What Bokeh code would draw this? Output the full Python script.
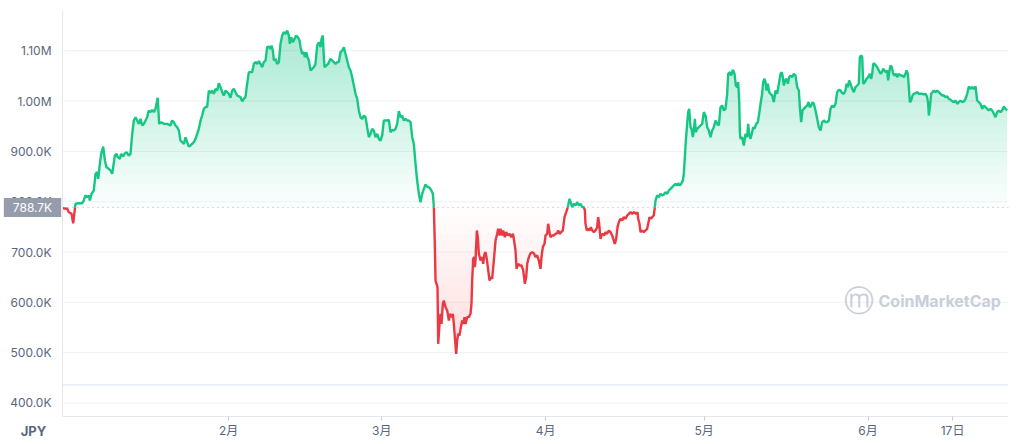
import numpy as np
from bokeh.plotting import figure
from bokeh.models import Range1d, FixedTicker, Label, Span, LinearAxis
from bokeh.embed import file_html
from bokeh.resources import INLINE

# ---- data (days since 2020-01-01, price in thousands of JPY) ----
days = [
    -0.42, 0.47, 0.78, 1.29, 1.6, 1.85, 2.04, 2.67, 3.3, 3.6,
    3.9, 4.25, 4.57, 4.75, 5.07, 5.5, 5.83, 6.14, 6.33, 6.65,
    6.9, 7.28, 7.6, 7.9, 8.35, 8.67, 8.98, 9.17, 9.49, 9.8,
    10.05, 10.43, 10.68, 11.06, 11.3, 11.7, 12.1, 12.45, 12.77, 13.08,
    13.4, 13.7, 14.03, 14.34, 14.66, 14.97, 15.29, 15.6, 15.9, 16.23,
    16.55, 16.86, 17.18, 17.6, 17.87, 18.25, 18.76, 19.4, 20.0, 20.33,
    20.65, 20.96, 21.28, 21.6, 21.9, 22.23, 22.55, 22.86, 23.17, 23.49,
    23.8, 24.1, 24.43, 24.75, 25.06, 25.38, 25.7, 26.0, 26.33, 26.64,
    26.96, 27.27, 27.59, 27.9, 28.22, 28.53, 28.85, 29.16, 29.48, 29.8,
    30.1, 30.43, 30.74, 31.06, 31.37, 31.69, 32.0, 32.32, 32.63, 33.26,
    33.58, 33.9, 34.2, 34.52, 34.84, 35.16, 35.47, 35.79, 36.1, 36.42,
    36.73, 37.05, 37.36, 37.68, 38.0, 38.31, 38.63, 38.94, 39.13, 39.38,
    39.57, 39.89, 40.2, 40.52, 40.83, 41.15, 41.46, 41.78, 42.1, 42.41,
    42.6, 42.85, 43.17, 43.48, 43.8, 44.11, 44.43, 44.62, 44.93, 45.25,
    45.44, 45.69, 45.94, 46.19, 46.51, 46.82, 47.14, 47.45, 47.77, 48.09,
    48.4, 48.59, 48.84, 49.03, 49.16, 49.47, 49.85, 50.3, 50.61, 50.92,
    51.24, 51.55, 51.87, 52.18, 52.5, 52.82, 53.13, 53.45, 53.76, 54.08,
    54.39, 54.71, 55.02, 55.34, 55.65, 55.97, 56.29, 56.6, 56.92, 57.23,
    57.55, 57.86, 58.18, 58.49, 58.81, 59.12, 59.44, 59.75, 60.07, 60.38,
    60.7, 61.02, 61.33, 61.65, 61.96, 62.28, 62.59, 62.91, 63.22, 63.54,
    63.85, 64.17, 64.48, 64.8, 65.11, 65.43, 65.75, 66.06, 66.38, 66.69,
    67.01, 67.32, 67.64, 67.95, 68.27, 68.58, 69.03, 69.4, 69.66, 69.85,
    70.04, 70.16, 70.35, 70.54, 70.67, 70.92, 71.11, 71.3, 71.55, 71.74,
    72.05, 72.37, 72.69, 72.87, 73.19, 73.44, 73.63, 73.82, 74.07, 74.26,
    74.45, 74.7, 74.96, 75.21, 75.4, 75.65, 75.84, 76.15, 76.47, 76.78,
    76.97, 77.1, 77.29, 77.48, 77.6, 77.73, 77.98, 78.17, 78.36, 78.68,
    78.99, 79.18, 79.43, 79.62, 79.81, 80.06, 80.38, 80.7, 80.88, 81.2,
    81.52, 81.83, 82.02, 82.27, 82.46, 82.78, 82.97, 83.28, 83.53, 83.85,
    84.16, 84.48, 84.8, 84.98, 85.3, 85.49, 85.8, 86.12, 86.43, 86.75,
    87.07, 87.32, 87.51, 87.82, 88.14, 88.45, 88.77, 89.08, 89.4, 89.71,
    90.03, 90.22, 90.47, 90.79, 90.98, 91.29, 91.48, 91.73, 91.92, 92.24,
    92.55, 92.87, 93.18, 93.37, 93.63, 93.94, 94.26, 94.57, 94.89, 95.2,
    95.52, 95.83, 96.02, 96.34, 96.65, 96.97, 97.28, 97.6, 97.91, 98.23,
    98.42, 98.54, 98.8, 99.05, 99.3, 99.55, 99.8, 100.12, 100.44, 100.75,
    100.94, 101.13, 101.38, 101.57, 101.83, 102.08, 102.33, 102.64, 102.96, 103.27,
    103.59, 103.78, 104.09, 104.35, 104.6, 104.85, 105.17, 105.48, 105.8, 106.11,
    106.43, 106.74, 107.06, 107.37, 107.69, 108.13, 108.38, 108.51, 108.76, 108.95,
    109.27, 109.58, 109.9, 110.21, 110.53, 110.65, 110.91, 111.16, 111.47, 111.66,
    111.79, 112.1, 112.42, 112.74, 113.05, 113.37, 113.68, 114.0, 114.31, 114.63,
    114.94, 115.26, 115.57, 115.89, 116.08, 116.39, 116.65, 116.96, 117.15, 117.34,
    117.53, 117.78, 117.97, 118.16, 118.41, 118.6, 118.85, 119.04, 119.23, 119.42,
    119.67, 119.99, 120.3, 120.62, 120.93, 121.25, 121.56, 121.88, 122.2, 122.51,
    122.83, 123.14, 123.46, 123.77, 124.09, 124.4, 124.72, 125.03, 125.35, 125.54,
    125.85, 126.1, 126.42, 126.74, 126.99, 127.24, 127.43, 127.62, 127.75, 127.87,
    128.19, 128.5, 128.82, 129.13, 129.32, 129.51, 129.76, 130.08, 130.27, 130.52,
    130.84, 131.15, 131.4, 131.66, 131.97, 132.16, 132.41, 132.6, 132.79, 133.04,
    133.3, 133.55, 133.86, 134.18, 134.49, 134.81, 135.13, 135.44, 135.69, 135.88,
    136.07, 136.32, 136.58, 136.83, 137.08, 137.33, 137.65, 137.96, 138.28, 138.59,
    138.91, 139.1, 139.35, 139.6, 139.86, 140.17, 140.49, 140.74, 140.99, 141.24,
    141.5, 141.75, 142.06, 142.38, 142.69, 143.01, 143.33, 143.64, 143.96, 144.27,
    144.59, 144.9, 145.22, 145.53, 145.85, 146.16, 146.48, 146.79, 147.11, 147.42,
    147.74, 147.93, 148.18, 148.43, 148.69, 149.0, 149.32, 149.63, 149.95, 150.26,
    150.45, 150.7, 150.9, 151.08, 151.4, 151.71, 152.03, 152.34, 152.6, 152.79,
    152.98, 153.23, 153.48, 153.73, 154.05, 154.36, 154.62, 154.87, 155.12, 155.37,
    155.62, 155.81, 156.0, 156.26, 156.51, 156.76, 157.01, 157.26, 157.52, 157.83,
    158.15, 158.46, 158.78, 159.09, 159.28, 159.53, 159.72, 159.91, 160.17, 160.42,
    160.67, 160.99, 161.3, 161.62, 161.93, 162.25, 162.56, 162.88, 163.19, 163.38,
    163.51, 163.7, 163.95, 164.2, 164.45, 164.77, 165.08, 165.4, 165.72, 166.03,
    166.35, 166.66, 166.98, 167.29, 167.61, 167.92, 168.24, 168.55, 168.87, 169.18,
    169.5, 169.82, 170.13, 170.45, 170.76, 171.08, 171.39, 171.71, 172.02, 172.34,
    172.65, 172.97, 173.28, 173.6, 173.92, 174.23, 174.55, 174.86, 175.18, 175.49,
    175.81, 176.12, 176.44, 176.75, 177.07, 177.38, 177.7, 178.02, 178.33,
]
prices_k = [
    787, 786, 779, 776, 757, 779, 796, 797, 797, 802.3,
    812.3, 809, 812.3, 802.3, 815.6, 822.2, 855.4, 858.7, 845.4, 875.2,
    895.1, 909.7, 881.9, 868.6, 865.3, 862, 855.4, 868.6, 891.8, 895.1,
    888.5, 885.2, 895.1, 889.8, 895.1, 898.4, 891.8, 895.1, 934.9, 961.4,
    968, 961.4, 954.8, 964.7, 951.5, 954.8, 961.4, 968, 981.3, 978,
    982.6, 978, 984.6, 1006.5, 954.8, 958.1, 954.8, 954.8, 951.5, 961.4,
    958.1, 951.5, 948.1, 941.5, 921.6, 918.3, 915, 928.3, 918.3, 909.7,
    911.7, 915, 918.3, 924.9, 934.9, 944.8, 961.4, 971.3, 984.6, 987.9,
    989.2, 1021, 1015.7, 1021, 1014.4, 1024.3, 1021, 1035.6, 1027.7, 1017.7,
    1011.1, 1021, 1017.7, 1014.4, 1006.5, 1021, 1024.3, 1017.7, 1011.1, 1007.8,
    999.8, 1004.5, 1007.8, 1034.3, 1057.5, 1057.5, 1057.5, 1074, 1077.4, 1074,
    1079.4, 1074, 1067.4, 1077.4, 1080.7, 1107.2, 1108.5, 1103.9, 1110.5, 1100.6,
    1080.7, 1084, 1074, 1077.4, 1113.8, 1130.4, 1137, 1133.7, 1140.3, 1130.4,
    1113.8, 1127.1, 1117.1, 1123.7, 1130.4, 1127.1, 1120.4, 1107.2, 1093.9, 1097.2,
    1087.3, 1097.2, 1087.3, 1080.7, 1060.8, 1064.1, 1067.4, 1074, 1110.5, 1117.1,
    1107.2, 1123.7, 1130.4, 1087.3, 1067.4, 1070.7, 1074, 1084, 1080.7, 1077.4,
    1074, 1077.4, 1077.4, 1097.2, 1100.6, 1107.2, 1093.9, 1080.7, 1067.4, 1060.8,
    1047.5, 1031, 1014.4, 1004.5, 981.3, 968, 964.7, 971.3, 968, 948.1,
    928.3, 934.9, 944.8, 941.5, 928.3, 934.9, 924.9, 921.6, 931.6, 961.4,
    961.4, 961.4, 962.7, 938.2, 942.8, 941.5, 944.8, 954.8, 980, 968,
    971.3, 961.4, 964.7, 961.4, 961.4, 958.1, 928.3, 915, 875.2, 842.1,
    815.6, 799, 815.6, 825.5, 834.2, 830, 828, 822, 816, 789,
    709.7, 643.4, 636.8, 630.1, 517.5, 557.2, 577.1, 557.2, 597, 603.6,
    590.4, 583.8, 563.9, 577.1, 570.5, 577.1, 557.2, 530.7, 497.6, 524.1,
    537.4, 534.1, 550.6, 563.9, 557.2, 570.5, 557.2, 570.5, 570.5, 577.1,
    597, 643.4, 686.5, 689.8, 669.9, 683.2, 742.8, 729.5, 696.4, 683.2,
    689.8, 676.5, 696.4, 699.7, 689.8, 669.9, 643.4, 650, 646.7, 683.2,
    722.9, 736.2, 746.1, 732.9, 746.1, 732.9, 742.8, 729.5, 739.5, 732.9,
    736.2, 729.5, 736.2, 726.2, 703, 666.6, 676.5, 673.2, 673.2, 663.3,
    636.8, 650, 676.5, 689.8, 697.7, 699.7, 697.7, 689.8, 693.1, 683.2,
    666.6, 689.8, 709.7, 716.3, 732.9, 736.2, 756.1, 739.5, 729.5, 732.9,
    732.9, 736.2, 737.5, 742.8, 736.2, 739.5, 742.8, 769.3, 779.2, 789.2,
    805.8, 795.8, 789.2, 795.8, 792.5, 799.1, 792.5, 795.8, 789.2, 789.2,
    782.6, 756.1, 742.8, 746.1, 742.8, 749.4, 742.8, 739.5, 742.8, 749.4,
    769.3, 756.1, 726.2, 732.9, 736.2, 732.9, 739.5, 736.2, 742.8, 739.5,
    732.9, 726.2, 716.3, 726.2, 749.4, 759.4, 766, 762.7, 769.3, 766,
    772.6, 775.9, 779.2, 775.9, 779.2, 775.9, 779.2, 766, 756.1, 739.5,
    742.8, 739.5, 742.8, 746.1, 762.7, 769.3, 766, 769.3, 772.6, 789.2,
    802.4, 812.4, 809.1, 815.7, 812.4, 814.4, 819, 815.7, 822.3, 825.6,
    829, 832.3, 835.5, 832.2, 836.9, 832.2, 835.5, 842.2, 855.4, 888.6,
    921.7, 954.8, 978, 984.6, 948.2, 944.9, 928.3, 941.6, 964.8, 938.3,
    944.9, 948.2, 951.5, 954.8, 978, 971.4, 948.2, 941.6, 928.3, 941.6,
    948.2, 961.5, 954.8, 951.5, 988, 991.3, 981.3, 984.6, 1014.5, 1054.2,
    1057.5, 1050.9, 1062.2, 1054.2, 1031, 1027.7, 1037.7, 1001.2, 938.3, 925,
    928.3, 911.8, 934.9, 928.3, 954.8, 934.9, 925, 938.3, 948.2, 944.9,
    954.8, 958.1, 974.7, 994.6, 1014.5, 1037.7, 1044.3, 1037.7, 1021.1, 1034.4,
    1017.8, 1014.5, 1011.2, 997.9, 1021.1, 1014.5, 1034.4, 1054.2, 1057.5, 1047.6,
    1031, 1041, 1044.3, 1034.4, 1047.6, 1050.9, 1047.6, 1054.2, 1050.9, 1027.7,
    1021.1, 988, 958.1, 981.3, 984.6, 988, 991.3, 997.9, 988, 991.3,
    997.9, 994.6, 981.3, 964.8, 948.2, 941.6, 958.1, 961.5, 958.1, 958.1,
    961.5, 984.6, 991.3, 988, 994.6, 1017.8, 1022.4, 1021.1, 1015.8, 1014.5,
    1021.1, 1034.4, 1027.7, 1041, 1034.4, 1024.4, 1017.8, 1027.7, 1031, 1034.4,
    1087.4, 1090.7, 1087.4, 1034.4, 1037.7, 1044.3, 1047.6, 1054.2, 1044.3, 1054.2,
    1074.1, 1074.1, 1070.8, 1067.5, 1060.9, 1054.2, 1057.5, 1064.2, 1060.9, 1057.5,
    1060.9, 1041, 1057.5, 1070.8, 1067.5, 1054.2, 1050.9, 1054.2, 1047.6, 1054.2,
    1050.9, 1050.9, 1047.6, 1054.2, 1060.9, 1054.2, 1027.7, 997.9, 1001.2, 1011.2,
    1014.5, 1015.8, 1017.8, 1014.5, 1014.5, 1014.5, 1013.1, 1014.5, 1007.9, 994.6,
    971.4, 988, 1014.5, 1017.8, 1021.1, 1017.8, 1021.1, 1017.8, 1014.5, 1011.2,
    1011.2, 1007.9, 1009.2, 1004.5, 1002.5, 999.9, 997.9, 1001.2, 994.6, 997.9,
    1001.2, 997.9, 999.2, 1004.5, 1014.5, 1029, 1024.4, 1027.7, 1024.4, 1029,
    1001.2, 997.9, 994.6, 984.6, 991.3, 988, 984.6, 981.3, 984.6, 981.3,
    974.7, 968.1, 978, 981.3, 978, 981.3, 989.3, 984.6, 981.3,
]
baseline_k = 788.7
baseline_label = "788.7K"
volume_line_k = 435.8
y_ticks_k = [400, 500, 600, 700, 800, 900, 1000, 1100]
y_tick_labels = ["400.0K", "500.0K", "600.0K", "700.0K", "800.0K", "900.0K", "1.00M", "1.10M"]
x_tick_days = [31, 60, 91, 121, 152, 168]
x_tick_labels = ["2月", "3月", "4月", "5月", "6月", "17日"]
currency = "JPY"
brand = "CoinMarketCap"

GREEN = "#16c784"
RED = "#ea3943"
TXT = "#58667e"
FONT = "Inter, 'Noto Sans CJK JP', sans-serif"

# ---- layout constants (pixels) ----
PLOT_W = 946            # width of the data area
LEFT_PAD = 60           # label column kept inside the frame, left of the data area
px_per_day = PLOT_W / 179.0
data_x0, data_x1 = -0.42, 178.58
x_start = data_x0 - LEFT_PAD / px_per_day
y_top = 1180100.0
y_bot = 373000.0

x = np.array(days, dtype=float)
y = np.array(prices_k, dtype=float) * 1000.0
base = baseline_k * 1000.0

# insert baseline crossings so colours switch exactly at the baseline
xs, ys = [x[0]], [y[0]]
for i in range(1, len(x)):
    y0, y1 = y[i - 1], y[i]
    if (y0 - base) * (y1 - base) < 0:
        t = (base - y0) / (y1 - y0)
        xs.append(x[i - 1] + t * (x[i] - x[i - 1]))
        ys.append(base)
    xs.append(x[i])
    ys.append(y[i])
xs = np.array(xs)
ys = np.array(ys)

p = figure(frame_width=PLOT_W + LEFT_PAD, frame_height=406,
           min_border_left=2, min_border_right=8, min_border_top=10, min_border_bottom=28,
           x_range=Range1d(x_start, data_x1), y_range=Range1d(y_bot, y_top),
           toolbar_location=None, output_backend="svg",
           background_fill_color="white", border_fill_color="white")
p.outline_line_color = None

# horizontal grid lines over the data area only
gy = [v * 1000 for v in y_ticks_k]
p.segment(x0=[data_x0] * len(gy), y0=gy, x1=[data_x1] * len(gy), y1=gy,
          line_color="#eff2f5", line_width=1)
p.xgrid.visible = False
p.ygrid.visible = False

# gradient fills made from stacked translucent bands
N = 24
for k in range(N):
    L = base + k * (y_top - base) / N
    p.varea(x=xs, y1=np.full_like(ys, L), y2=np.maximum(ys, L),
            fill_color=GREEN, fill_alpha=0.0155)
for k in range(N):
    L = base - k * (base - y_bot) / N
    p.varea(x=xs, y1=np.minimum(ys, L), y2=np.full_like(ys, L),
            fill_color=RED, fill_alpha=0.0135)

p.segment(x0=[data_x0], y0=[volume_line_k * 1000], x1=[data_x1], y1=[volume_line_k * 1000],
          line_color="#dde3ec", line_width=1)
p.segment(x0=[data_x0], y0=[base], x1=[data_x1], y1=[base],
          line_color="#a6b0c3", line_width=1, line_dash="1 4")
p.add_layout(Span(location=data_x0, dimension="height", line_color="#e3e7ee", line_width=1))

green_y = np.where(ys >= base, ys, np.nan)
red_y = np.where(ys <= base, ys, np.nan)
p.line(xs, green_y, line_color=GREEN, line_width=2.4)
p.line(xs, red_y, line_color=RED, line_width=2.4)

# y axis: labels drawn into the reserved label column
p.yaxis.ticker = FixedTicker(ticks=gy)
p.yaxis.major_label_overrides = {v * 1000: lab for v, lab in zip(y_ticks_k, y_tick_labels)}
p.yaxis.major_tick_line_color = None
p.yaxis.major_tick_out = 0
p.yaxis.major_tick_in = 0
p.yaxis.minor_tick_line_color = None
p.yaxis.axis_line_color = None
p.yaxis.major_label_standoff = -49

# x axis: month ticks, axis line only under the data area
p.xaxis.ticker = FixedTicker(ticks=x_tick_days)
p.xaxis.major_label_overrides = {d: lab for d, lab in zip(x_tick_days, x_tick_labels)}
p.xaxis.bounds = (data_x0, data_x1)
p.xaxis.minor_tick_line_color = None
p.xaxis.major_tick_in = 0
p.xaxis.major_tick_out = 4
p.xaxis.major_tick_line_color = "#c8ced8"
p.xaxis.axis_line_color = "#e3e7ee"
p.xaxis.major_label_standoff = 2
for ax in (p.xaxis, p.yaxis):
    ax.major_label_text_font = FONT
    ax.major_label_text_font_size = "12px"
    ax.major_label_text_color = TXT

# currency unit, shown in the x label row under the price labels
jpy_day = x_start + 31 / px_per_day
cur_axis = LinearAxis(ticker=FixedTicker(ticks=[jpy_day]),
                      major_label_overrides={jpy_day: currency},
                      major_tick_line_color=None, major_tick_out=0, major_tick_in=0,
                      minor_tick_line_color=None, axis_line_color=None,
                      major_label_standoff=-18,
                      major_label_text_font=FONT, major_label_text_font_size="13px",
                      major_label_text_font_style="bold", major_label_text_color=TXT)
p.add_layout(cur_axis, "below")

# baseline value tag over the label column
p.add_layout(Label(x=30, y=base, x_units="screen", y_units="data", text=baseline_label,
                   text_align="center", text_baseline="middle", text_color="white",
                   text_font=FONT, text_font_size="12px",
                   background_fill_color="#959dad", padding=(9, 2)))

# watermark
p.add_layout(Label(x=876, y=116, x_units="screen", y_units="screen", text=brand,
                   text_baseline="middle", text_color="#c9cfd9", text_font=FONT,
                   text_font_size="16px", text_font_style="bold"))
p.add_layout(Label(x=856, y=116, x_units="screen", y_units="screen", text="ⓜ",
                   text_align="center", text_baseline="middle", text_color="#c9cfd9",
                   text_font="DejaVu Sans", text_font_size="30px"))

open("out.html", "w").write(file_html(p, INLINE))
